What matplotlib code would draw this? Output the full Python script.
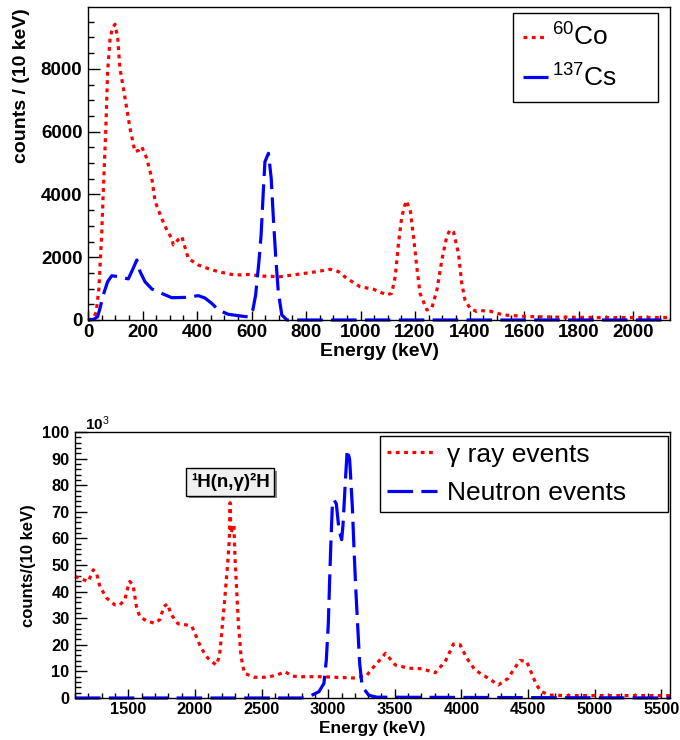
import matplotlib
matplotlib.use("Agg")
import matplotlib.pyplot as plt
import matplotlib.patheffects as pe
from matplotlib.ticker import MultipleLocator

# top panel: calibration sources (counts per 10 keV)
co60_energy = [0, 10, 20, 30, 40, 50, 56, 65, 72, 81, 90, 99, 109, 117, 130, 142, 154, 172,
               185, 197, 215, 234, 246, 270, 290, 307, 313, 330, 344, 368, 405, 440, 478,
               539, 588, 640, 705, 778, 839, 888, 919, 949, 998, 1047, 1096, 1114, 1127,
               1139, 1151, 1167, 1182, 1194, 1206, 1218, 1243, 1261, 1280, 1298, 1316,
               1328, 1341, 1359, 1371, 1383, 1402, 1426, 1439, 1475, 1524, 1610, 1734,
               1917, 2020, 2135]
co60_counts = [0, 20, 60, 250, 1000, 2700, 4090, 6000, 7910, 8980, 9300, 9420, 8980, 8020,
               7380, 6740, 6110, 5360, 5400, 5520, 5160, 4520, 3780, 3240, 2850, 2600, 2390,
               2550, 2660, 1960, 1750, 1640, 1540, 1430, 1450, 1400, 1380, 1466, 1540, 1615,
               1540, 1330, 1060, 980, 800, 850, 1380, 2440, 3290, 3800, 3500, 2660, 1700,
               850, 320, 370, 960, 1910, 2660, 2870, 2800, 2120, 1170, 640, 370, 270, 300,
               280, 160, 110, 90, 75, 80, 80]

cs137_energy = [0, 20, 35, 44, 56, 72, 87, 111, 148, 166, 179, 191, 209, 234, 270, 307, 356,
                405, 429, 454, 478, 515, 576, 590, 605, 615, 627, 635, 643, 649, 662, 672,
                680, 689, 698, 711, 730, 2135]
cs137_counts = [0, 20, 100, 370, 800, 1220, 1410, 1380, 1310, 1650, 1910, 1540, 1220, 990,
                850, 710, 720, 775, 700, 530, 320, 180, 110, 100, 330, 800, 1860, 2710, 4090,
                5040, 5310, 4520, 3240, 1960, 900, 160, 0, 0]

# bottom panel: event spectra (10^3 counts per 10 keV)
gamma_energy = [1100, 1150, 1200, 1237, 1262, 1287, 1337, 1399, 1436, 1474, 1498, 1511, 1536,
                1561, 1586, 1636, 1698, 1735, 1768, 1793, 1823, 1873, 1935, 1977, 2010, 2047,
                2097, 2159, 2184, 2196, 2221, 2246, 2258, 2264, 2270, 2284, 2293, 2300, 2313,
                2326, 2346, 2371, 2445, 2545, 2619, 2675, 2732, 2800, 2950, 3205, 3290, 3320,
                3355, 3430, 3504, 3604, 3703, 3803, 3878, 3940, 3990, 4040, 4102, 4202, 4277,
                4351, 4389, 4439, 4489, 4526, 4563, 4600, 4663, 4800, 5100, 5565]
gamma_counts = [45.7, 44.7, 43.8, 48.2, 46.9, 41.9, 37.6, 35.0, 35.0, 36.9, 41.9, 43.8, 42.5,
                34.4, 30.6, 29.0, 28.1, 29.4, 34.4, 35.4, 31.3, 27.9, 27.5, 26.9, 23.1, 18.7,
                15.0, 12.4, 15.6, 21.9, 35.7, 50.7, 59.5, 73.4, 62.0, 64.0, 65.0, 53.2, 40.7,
                28.1, 15.6, 9.3, 7.8, 7.8, 8.7, 9.9, 8.2, 8.0, 8.0, 7.5, 8.5, 10.5,
                12.4, 16.8, 12.4, 11.2, 11.0, 9.5, 13.7, 20.3, 20.0, 15.0, 10.5, 7.4, 4.9,
                7.4, 10.5, 14.1, 13.8, 9.3, 4.9, 2.4, 1.1, 0.9, 0.9, 0.9]

neutron_energy = [1100, 2800, 2856, 2931, 2968, 2986, 3001, 3011, 3021, 3031, 3043, 3061, 3081,
                  3101, 3111, 3131, 3143, 3161, 3181, 3193, 3206, 3223, 3236, 3255, 3305, 3366,
                  5565]
neutron_counts = [0, 0, 0.5, 2.4, 5.5, 14.3, 28.1, 44.5, 59.5, 72.1, 74.6, 73.0, 63.3, 59.5,
                  65.0, 83.4, 93.4, 89.7, 72.1, 57.0, 41.9, 25.6, 13.1, 4.3, 1.0, 0.3, 0]

plt.rcParams['font.family'] = ['Liberation Sans', 'DejaVu Sans']
plt.rcParams['font.weight'] = 'bold'
plt.rcParams['mathtext.fontset'] = 'custom'
plt.rcParams['mathtext.rm'] = 'Liberation Sans:weight=normal'
plt.rcParams['mathtext.it'] = 'Liberation Sans:style=italic:weight=normal'
plt.rcParams['mathtext.bf'] = 'Liberation Sans:weight=bold'

DOTS = (0, (1.2, 1.4))
DASHES = (0, (8, 2.6))

fig = plt.figure(figsize=(6.8, 7.4), dpi=100)
ax1 = fig.add_axes([88 / 680, 1 - 320 / 740, 582 / 680, 313 / 740])
ax2 = fig.add_axes([75 / 680, 1 - 698 / 740, 595 / 680, 266 / 740])

ax1.plot(co60_energy, co60_counts, color='red', lw=2.3, ls=DOTS, clip_on=False,
         label=r'$^{60}$Co')
ax1.plot(cs137_energy, cs137_counts, color='blue', lw=2.3, ls=DASHES, clip_on=False,
         label=r'$^{137}$Cs')
ax1.set_xlim(0, 2135)
ax1.set_ylim(0, 9970)
ax1.xaxis.set_major_locator(MultipleLocator(200))
ax1.xaxis.set_minor_locator(MultipleLocator(50))
ax1.yaxis.set_major_locator(MultipleLocator(2000))
ax1.yaxis.set_minor_locator(MultipleLocator(500))

ax2.plot(gamma_energy, gamma_counts, color='red', lw=2.3, ls=DOTS, clip_on=False,
         label='γ ray events')
ax2.plot(neutron_energy, neutron_counts, color='blue', lw=2.3, ls=DASHES, clip_on=False,
         label='Neutron events')
ax2.set_xlim(1100, 5565)
ax2.set_ylim(0, 100)
ax2.xaxis.set_major_locator(MultipleLocator(500))
ax2.xaxis.set_minor_locator(MultipleLocator(100))
ax2.yaxis.set_major_locator(MultipleLocator(10))
ax2.yaxis.set_minor_locator(MultipleLocator(2))

for ax, size in ((ax1, 13.5), (ax2, 11.8)):
    ax.tick_params(which='both', direction='in', top=False, right=False, width=1)
    ax.tick_params(axis='y', which='major', length=8.5, pad=4, labelsize=size)
    ax.tick_params(axis='y', which='minor', length=4.5)
    ax.tick_params(axis='x', which='major', length=6.5, pad=3, labelsize=size)
    ax.tick_params(axis='x', which='minor', length=3.5)
    for sp in ax.spines.values():
        sp.set_linewidth(1)

leg1 = ax1.legend(loc='upper left', bbox_to_anchor=(0.7297, 0.6923, 0.2503, 0.2877),
                  mode='expand', borderaxespad=0, fancybox=False, edgecolor='black',
                  framealpha=1, prop={'size': 19, 'weight': 'normal'}, handlelength=0.95,
                  handletextpad=0.15, borderpad=0.4, labelspacing=0.5)
leg1.get_frame().set_linewidth(1)

leg2 = ax2.legend(loc='upper left', bbox_to_anchor=(0.5126, 0.694, 0.4835, 0.291),
                  mode='expand', borderaxespad=0, fancybox=False, edgecolor='black',
                  framealpha=1, prop={'size': 19, 'weight': 'normal'}, handlelength=1.9,
                  handletextpad=0.4, borderpad=0.25, labelspacing=0.55)
leg2.get_frame().set_linewidth(1)

note = ax2.text(2266, 81.2, '¹H(n,γ)²H', ha='center', va='center', fontsize=13.5,
                fontweight='bold',
                bbox=dict(boxstyle='square,pad=0.25', fc='#f0f0f0', ec='black', lw=1))
note.get_bbox_patch().set_path_effects(
    [pe.SimplePatchShadow(offset=(2, -2), shadow_rgbFace='#888888', alpha=1), pe.Normal()])

fig.text(22 / 680, 1 - 8 / 740, 'counts / (10 keV)', rotation=90, ha='center', va='top',
         fontsize=14)
fig.text(379 / 680, 1 - 352 / 740, 'Energy (keV)', ha='center', va='center', fontsize=14)
fig.text(29 / 680, 1 - 566 / 740, 'counts/(10 keV)', rotation=90, ha='center',
         va='center', fontsize=12)
fig.text(372 / 680, 1 - 728 / 740, 'Energy (keV)', ha='center', va='center', fontsize=12.5)
fig.text(85 / 680, 1 - 424 / 740, r'10$^{3}$', ha='left', va='center', fontsize=11)

fig.savefig('out.png', dpi=100)
plt.close(fig)
